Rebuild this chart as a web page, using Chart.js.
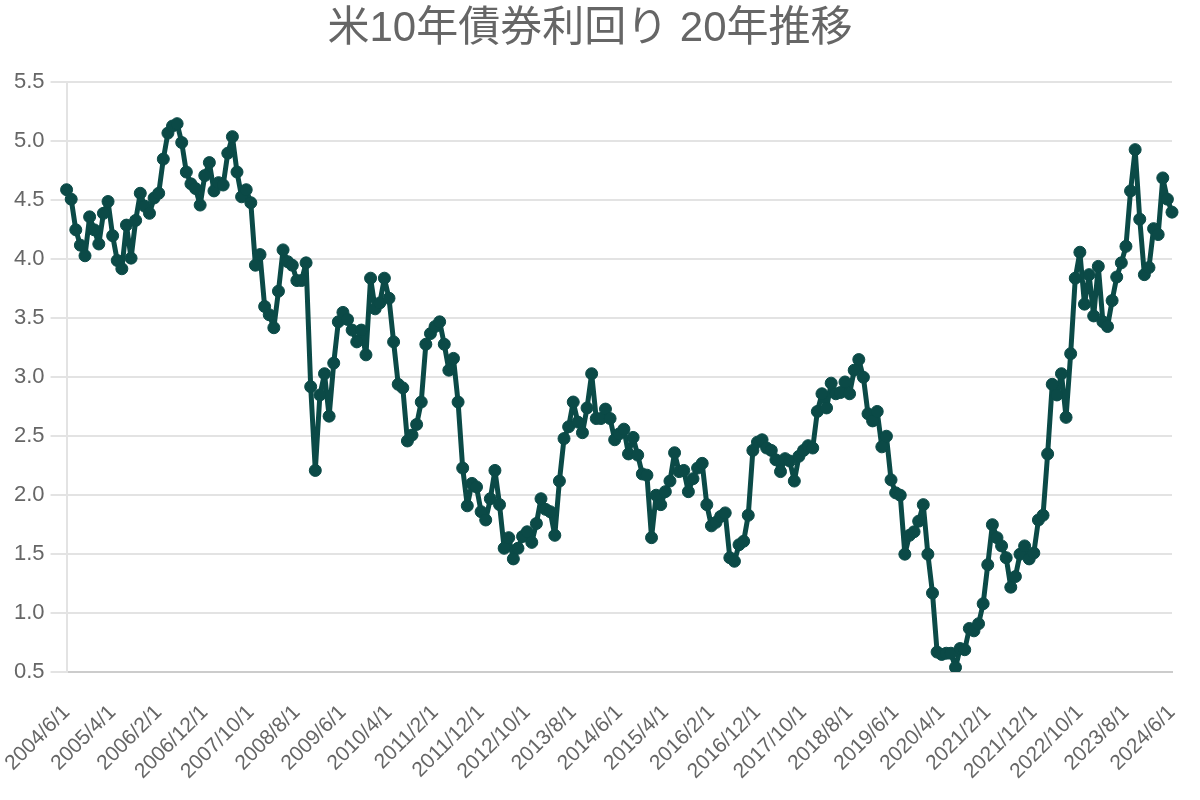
<!DOCTYPE html>
<html>
<head>
<meta charset="utf-8">
<script src="https://cdn.jsdelivr.net/npm/chart.js@4"></script>
<style>
html,body{margin:0;padding:0;background:#fff;}
#wrap{width:1200px;height:800px;position:relative;}
</style>
</head>
<body>
<div id="wrap"><canvas id="c"></canvas></div>
<script>
const chartTitle = '米10年債券利回り 20年推移';

const categories = [
'2004/6/1','2004/7/1','2004/8/1','2004/9/1','2004/10/1','2004/11/1','2004/12/1',
'2005/1/1','2005/2/1','2005/3/1','2005/4/1','2005/5/1','2005/6/1','2005/7/1','2005/8/1','2005/9/1','2005/10/1','2005/11/1','2005/12/1',
'2006/1/1','2006/2/1','2006/3/1','2006/4/1','2006/5/1','2006/6/1','2006/7/1','2006/8/1','2006/9/1','2006/10/1','2006/11/1','2006/12/1',
'2007/1/1','2007/2/1','2007/3/1','2007/4/1','2007/5/1','2007/6/1','2007/7/1','2007/8/1','2007/9/1','2007/10/1','2007/11/1','2007/12/1',
'2008/1/1','2008/2/1','2008/3/1','2008/4/1','2008/5/1','2008/6/1','2008/7/1','2008/8/1','2008/9/1','2008/10/1','2008/11/1','2008/12/1',
'2009/1/1','2009/2/1','2009/3/1','2009/4/1','2009/5/1','2009/6/1','2009/7/1','2009/8/1','2009/9/1','2009/10/1','2009/11/1','2009/12/1',
'2010/1/1','2010/2/1','2010/3/1','2010/4/1','2010/5/1','2010/6/1','2010/7/1','2010/8/1','2010/9/1','2010/10/1','2010/11/1','2010/12/1',
'2011/1/1','2011/2/1','2011/3/1','2011/4/1','2011/5/1','2011/6/1','2011/7/1','2011/8/1','2011/9/1','2011/10/1','2011/11/1','2011/12/1',
'2012/1/1','2012/2/1','2012/3/1','2012/4/1','2012/5/1','2012/6/1','2012/7/1','2012/8/1','2012/9/1','2012/10/1','2012/11/1','2012/12/1',
'2013/1/1','2013/2/1','2013/3/1','2013/4/1','2013/5/1','2013/6/1','2013/7/1','2013/8/1','2013/9/1','2013/10/1','2013/11/1','2013/12/1',
'2014/1/1','2014/2/1','2014/3/1','2014/4/1','2014/5/1','2014/6/1','2014/7/1','2014/8/1','2014/9/1','2014/10/1','2014/11/1','2014/12/1',
'2015/1/1','2015/2/1','2015/3/1','2015/4/1','2015/5/1','2015/6/1','2015/7/1','2015/8/1','2015/9/1','2015/10/1','2015/11/1','2015/12/1',
'2016/1/1','2016/2/1','2016/3/1','2016/4/1','2016/5/1','2016/6/1','2016/7/1','2016/8/1','2016/9/1','2016/10/1','2016/11/1','2016/12/1',
'2017/1/1','2017/2/1','2017/3/1','2017/4/1','2017/5/1','2017/6/1','2017/7/1','2017/8/1','2017/9/1','2017/10/1','2017/11/1','2017/12/1',
'2018/1/1','2018/2/1','2018/3/1','2018/4/1','2018/5/1','2018/6/1','2018/7/1','2018/8/1','2018/9/1','2018/10/1','2018/11/1','2018/12/1',
'2019/1/1','2019/2/1','2019/3/1','2019/4/1','2019/5/1','2019/6/1','2019/7/1','2019/8/1','2019/9/1','2019/10/1','2019/11/1','2019/12/1',
'2020/1/1','2020/2/1','2020/3/1','2020/4/1','2020/5/1','2020/6/1','2020/7/1','2020/8/1','2020/9/1','2020/10/1','2020/11/1','2020/12/1',
'2021/1/1','2021/2/1','2021/3/1','2021/4/1','2021/5/1','2021/6/1','2021/7/1','2021/8/1','2021/9/1','2021/10/1','2021/11/1','2021/12/1',
'2022/1/1','2022/2/1','2022/3/1','2022/4/1','2022/5/1','2022/6/1','2022/7/1','2022/8/1','2022/9/1','2022/10/1','2022/11/1','2022/12/1',
'2023/1/1','2023/2/1','2023/3/1','2023/4/1','2023/5/1','2023/6/1','2023/7/1','2023/8/1','2023/9/1','2023/10/1','2023/11/1','2023/12/1',
'2024/1/1','2024/2/1','2024/3/1','2024/4/1','2024/5/1','2024/6/1'
];

const yieldValues = [
4.59,4.51,4.25,4.12,4.03,4.36,4.25,4.13,4.39,4.49,
4.20,3.99,3.92,4.29,4.01,4.33,4.56,4.45,4.39,4.52,
4.56,4.85,5.07,5.13,5.15,4.99,4.74,4.64,4.60,4.46,
4.71,4.82,4.58,4.65,4.63,4.90,5.04,4.74,4.53,4.59,
4.48,3.95,4.04,3.60,3.53,3.42,3.73,4.08,3.98,3.95,
3.82,3.82,3.97,2.92,2.21,2.85,3.03,2.67,3.12,3.47,
3.55,3.49,3.40,3.30,3.40,3.19,3.84,3.58,3.63,3.84,
3.67,3.30,2.94,2.91,2.46,2.51,2.60,2.79,3.28,3.37,
3.43,3.47,3.28,3.06,3.16,2.79,2.23,1.91,2.10,2.07,
1.86,1.79,1.97,2.21,1.92,1.55,1.64,1.46,1.55,1.65,
1.69,1.60,1.76,1.97,1.88,1.86,1.66,2.12,2.48,2.58,
2.79,2.62,2.53,2.74,3.03,2.65,2.65,2.73,2.65,2.47,
2.52,2.56,2.35,2.49,2.34,2.18,2.17,1.64,2.00,1.92,
2.03,2.12,2.36,2.20,2.21,2.03,2.14,2.23,2.27,1.92,
1.74,1.77,1.82,1.85,1.47,1.44,1.58,1.61,1.83,2.38,
2.45,2.47,2.40,2.38,2.30,2.20,2.31,2.29,2.12,2.33,
2.38,2.42,2.40,2.71,2.86,2.74,2.95,2.86,2.87,2.96,
2.86,3.06,3.15,3.00,2.69,2.63,2.71,2.41,2.50,2.13,
2.02,2.00,1.50,1.66,1.69,1.78,1.92,1.50,1.17,0.67,
0.65,0.66,0.66,0.54,0.70,0.69,0.87,0.85,0.91,1.08,
1.41,1.75,1.64,1.57,1.47,1.22,1.31,1.50,1.57,1.46,
1.51,1.79,1.83,2.35,2.94,2.85,3.03,2.66,3.20,3.84,
4.06,3.62,3.87,3.52,3.94,3.47,3.43,3.65,3.85,3.97,
4.11,4.58,4.93,4.34,3.87,3.93,4.26,4.21,4.69,4.51,
4.40
];

const xTickLabels = [
'2004/6/1','2005/4/1','2006/2/1','2006/12/1','2007/10/1','2008/8/1','2009/6/1',
'2010/4/1','2011/2/1','2011/12/1','2012/10/1','2013/8/1','2014/6/1','2015/4/1',
'2016/2/1','2016/12/1','2017/10/1','2018/8/1','2019/6/1','2020/4/1','2021/2/1',
'2021/12/1','2022/10/1','2023/8/1','2024/6/1'
];

const yTickValues = [0.5,1.0,1.5,2.0,2.5,3.0,3.5,4.0,4.5,5.0,5.5];

const FONT = "'Liberation Sans', Arial, 'Noto Sans CJK JP', sans-serif";
const lineColor = '#0b4a47';

new Chart(document.getElementById('c'), {
  type: 'line',
  data: {
    labels: categories,
    datasets: [{
      label: '米10年債券利回り',
      data: yieldValues,
      borderColor: lineColor,
      backgroundColor: lineColor,
      borderWidth: 5,
      borderJoinStyle: 'round',
      borderCapStyle: 'round',
      pointRadius: 6,
      pointBorderWidth: 1,
      pointBackgroundColor: lineColor,
      pointBorderColor: lineColor,
      tension: 0,
      fill: false
    }]
  },
  options: {
    responsive: true,
    maintainAspectRatio: false,
    animation: false,
    devicePixelRatio: 1,
    layout: { padding: { left: 8, right: 28, top: 0, bottom: 14 } },
    plugins: {
      legend: { display: false },
      tooltip: { enabled: false },
      title: {
        display: true,
        text: chartTitle,
        color: '#666666',
        font: { family: FONT, size: 42, weight: 'normal' },
        padding: { top: 4, bottom: 28 }
      }
    },
    scales: {
      x: {
        grid: {
          display: true,
          drawOnChartArea: false,
          drawTicks: true,
          tickLength: 26,
          color: 'rgba(0,0,0,0)'
        },
        border: { display: true, color: '#cccccc', width: 2 },
        ticks: {
          autoSkip: false,
          minRotation: 45,
          maxRotation: 45,
          color: '#666666',
          font: { family: FONT, size: 21 },
          padding: 2,
          callback: function(value, index) {
            const l = categories[index];
            return xTickLabels.includes(l) ? l : null;
          }
        }
      },
      y: {
        min: yTickValues[0],
        max: yTickValues[yTickValues.length - 1],
        afterBuildTicks: function(axis) {
          axis.ticks = yTickValues.map(v => ({ value: v }));
        },
        grid: { color: '#e3e3e3', lineWidth: 2, tickLength: 16 },
        border: { display: true, color: '#e3e3e3', width: 2 },
        ticks: {
          color: '#666666',
          font: { family: FONT, size: 22 },
          padding: 6,
          callback: v => Number(v).toFixed(1)
        }
      }
    }
  }
});
</script>
</body>
</html>
